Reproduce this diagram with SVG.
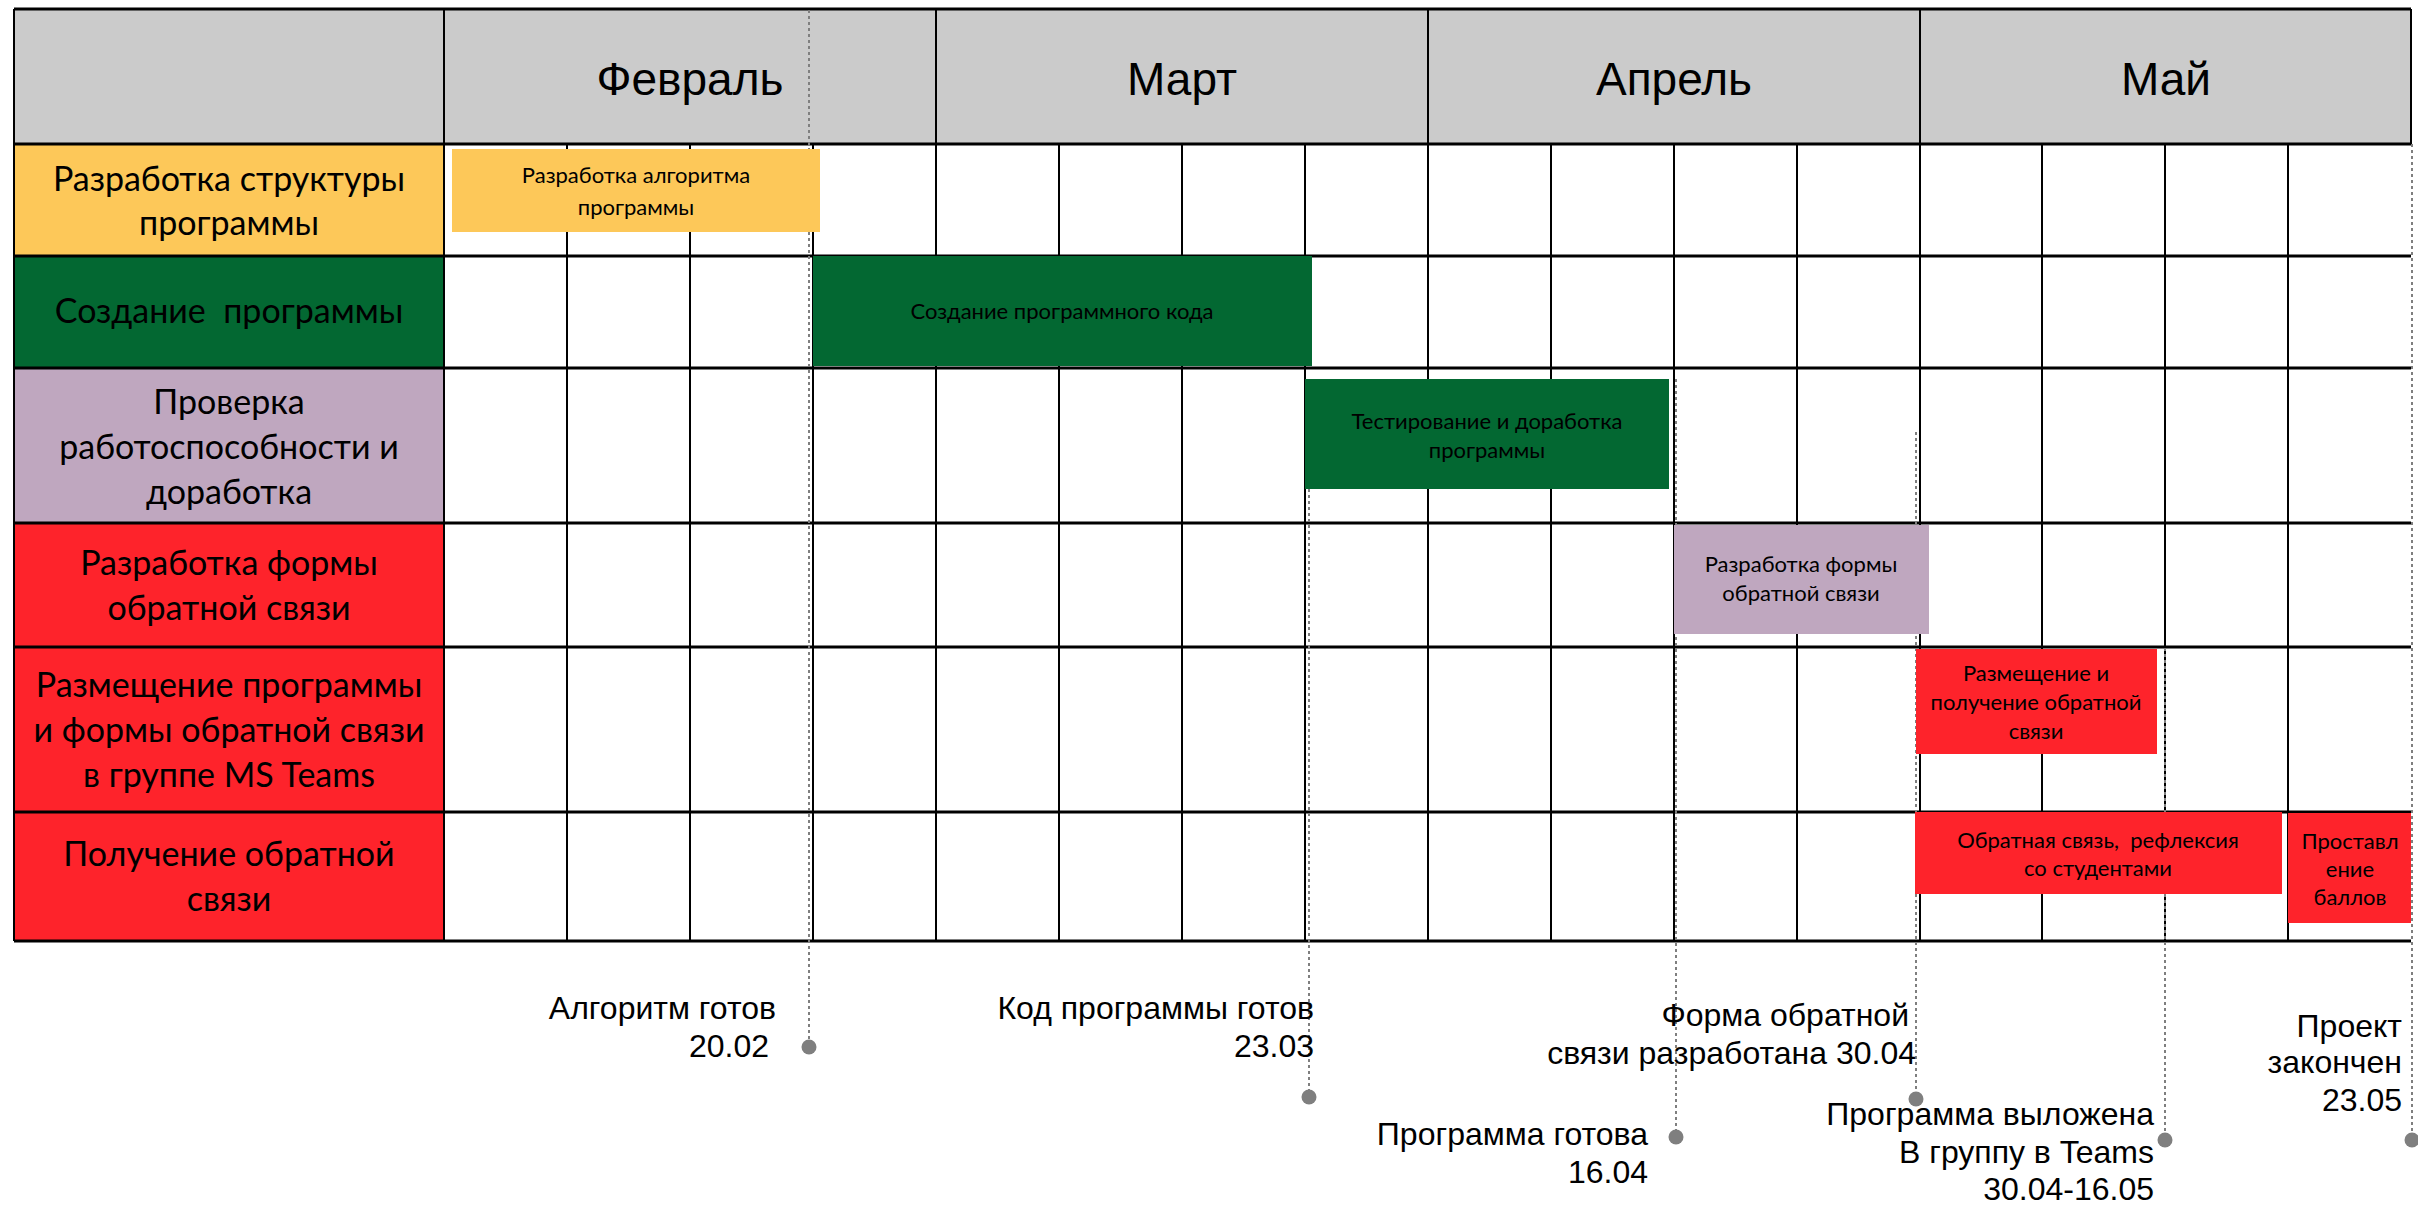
<svg xmlns="http://www.w3.org/2000/svg" width="2418" height="1206" viewBox="0 0 2418 1206">
<defs>
<style>
.lbl{font-family:Lato,"Noto Sans",sans-serif;font-size:34px;fill:#000;text-anchor:middle}
.bar{font-family:Lato,"Noto Sans",sans-serif;font-size:22px;fill:#000;text-anchor:middle}
.mon{font-family:"Liberation Sans",Arial,sans-serif;font-size:46px;fill:#000;text-anchor:middle}
.ms{font-family:"Liberation Sans",Arial,sans-serif;font-size:32px;fill:#000;text-anchor:end}
.hl{stroke:#000;stroke-width:3;fill:none}
.vl{stroke:#000;stroke-width:2;fill:none}
.dot{stroke:#7f7f7f;stroke-width:2;stroke-dasharray:3 3;fill:none;marker-end:url(#pin)}
</style>
<marker id="pin" markerWidth="18" markerHeight="18" refX="9" refY="9" markerUnits="userSpaceOnUse"><circle cx="9" cy="9" r="7.5" fill="#7f7f7f"/></marker>
</defs>
<rect x="0" y="0" width="2418" height="1206" fill="#fff"/>
<rect x="14" y="9" width="2397" height="135" fill="#cbcbcb"/>

<g id="row1-label"><rect x="14" y="144" width="430" height="112" fill="#fdc859"/><text class="lbl"><tspan x="229" y="191">Разработка структуры</tspan><tspan x="229" y="235">программы</tspan></text></g>
<g id="row2-label"><rect x="14" y="256" width="430" height="112" fill="#036832"/><text class="lbl" x="229" y="323" xml:space="preserve">Создание  программы</text></g>
<g id="row3-label"><rect x="14" y="368" width="430" height="155" fill="#bfa7bf"/><text class="lbl"><tspan x="229" y="414">Проверка</tspan><tspan x="229" y="459">работоспособности и</tspan><tspan x="229" y="504">доработка</tspan></text></g>
<g id="row4-label"><rect x="14" y="523" width="430" height="124" fill="#fe232b"/><text class="lbl"><tspan x="229" y="575">Разработка формы</tspan><tspan x="229" y="620">обратной связи</tspan></text></g>
<g id="row5-label"><rect x="14" y="647" width="430" height="165" fill="#fe232b"/><text class="lbl"><tspan x="229" y="697">Размещение программы</tspan><tspan x="229" y="742">и формы обратной связи</tspan><tspan x="229" y="787">в группе MS Teams</tspan></text></g>
<g id="row6-label"><rect x="14" y="812" width="430" height="129" fill="#fe232b"/><text class="lbl"><tspan x="229" y="866">Получение обратной</tspan><tspan x="229" y="911">связи</tspan></text></g>

<g id="month-feb"><text class="mon" x="690" y="95">Февраль</text></g>
<g id="month-mar"><text class="mon" x="1182" y="95">Март</text></g>
<g id="month-apr"><text class="mon" x="1674" y="95">Апрель</text></g>
<g id="month-may"><text class="mon" x="2166" y="95">Май</text></g>

<g id="grid">
<line class="hl" x1="14" y1="9" x2="2411" y2="9" stroke-width="5"/>
<line class="hl" x1="14" y1="144" x2="2411" y2="144"/>
<line class="hl" x1="14" y1="256" x2="2411" y2="256"/>
<line class="hl" x1="14" y1="368" x2="2411" y2="368"/>
<line class="hl" x1="14" y1="523" x2="2411" y2="523"/>
<line class="hl" x1="14" y1="647" x2="2411" y2="647"/>
<line class="hl" x1="14" y1="812" x2="2411" y2="812"/>
<line class="hl" x1="14" y1="941" x2="2411" y2="941"/>
<line class="vl" x1="14" y1="9" x2="14" y2="941" stroke-width="3"/>
<line class="vl" x1="444" y1="9" x2="444" y2="941"/>
<line class="vl" x1="936" y1="9" x2="936" y2="941"/>
<line class="vl" x1="1428" y1="9" x2="1428" y2="941"/>
<line class="vl" x1="1920" y1="9" x2="1920" y2="941"/>
<line class="vl" x1="2411" y1="9" x2="2411" y2="144"/>
<line class="vl" x1="567" y1="144" x2="567" y2="941"/>
<line class="vl" x1="690" y1="144" x2="690" y2="941"/>
<line class="vl" x1="813" y1="144" x2="813" y2="941"/>
<line class="vl" x1="1059" y1="144" x2="1059" y2="941"/>
<line class="vl" x1="1182" y1="144" x2="1182" y2="941"/>
<line class="vl" x1="1305" y1="144" x2="1305" y2="941"/>
<line class="vl" x1="1551" y1="144" x2="1551" y2="941"/>
<line class="vl" x1="1674" y1="144" x2="1674" y2="941"/>
<line class="vl" x1="1797" y1="144" x2="1797" y2="941"/>
<line class="vl" x1="2042" y1="144" x2="2042" y2="941"/>
<line class="vl" x1="2165" y1="144" x2="2165" y2="941"/>
<line class="vl" x1="2288" y1="144" x2="2288" y2="941"/>
</g>

<g id="connectors">
<line class="dot" x1="809" y1="10" x2="809" y2="1047"/>
<line class="dot" x1="1309" y1="489" x2="1309" y2="1097"/>
<line class="dot" x1="1676" y1="379" x2="1676" y2="1137"/>
<line class="dot" x1="1916" y1="432" x2="1916" y2="1099"/>
<line class="dot" x1="2165" y1="648" x2="2165" y2="1140"/>
<line class="dot" x1="2412" y1="144" x2="2412" y2="1140"/>
</g>

<g id="bar-algorithm"><rect x="452" y="149" width="368" height="83" fill="#fdc859"/><text class="bar"><tspan x="636" y="183">Разработка алгоритма</tspan><tspan x="636" y="215">программы</tspan></text></g>
<g id="bar-code"><rect x="813" y="256" width="499" height="110" fill="#036832"/><text class="bar" x="1062" y="319">Создание программного кода</text></g>
<g id="bar-testing"><rect x="1305" y="379" width="364" height="110" fill="#036832"/><text class="bar"><tspan x="1487" y="429">Тестирование и доработка</tspan><tspan x="1487" y="458">программы</tspan></text></g>
<g id="bar-form"><rect x="1674" y="525" width="255" height="109" fill="#bfa7bf"/><text class="bar"><tspan x="1801" y="572">Разработка формы</tspan><tspan x="1801" y="601">обратной связи</tspan></text></g>
<g id="bar-placement"><rect x="1916" y="649" width="241" height="105" fill="#fe232b"/><text class="bar"><tspan x="2036" y="681">Размещение и</tspan><tspan x="2036" y="710">получение обратной</tspan><tspan x="2036" y="739">связи</tspan></text></g>
<g id="bar-feedback"><rect x="1915" y="812" width="367" height="82" fill="#fe232b"/><text class="bar" xml:space="preserve"><tspan x="2098" y="848">Обратная связь,  рефлексия</tspan><tspan x="2098" y="876">со студентами</tspan></text></g>
<g id="bar-grading"><rect x="2288" y="813" width="123" height="110" fill="#fe232b"/><text class="bar"><tspan x="2350" y="849">Проставл</tspan><tspan x="2350" y="877">ение</tspan><tspan x="2350" y="905">баллов</tspan></text></g>

<g id="ms-algorithm"><text class="ms"><tspan x="776" y="1019">Алгоритм готов</tspan><tspan x="769" y="1057">20.02</tspan></text></g>
<g id="ms-code"><text class="ms"><tspan x="1314" y="1019">Код программы готов</tspan><tspan x="1314" y="1057">23.03</tspan></text></g>
<g id="ms-program"><text class="ms"><tspan x="1648" y="1145">Программа готова</tspan><tspan x="1648" y="1183">16.04</tspan></text></g>
<g id="ms-form"><text class="ms"><tspan x="1909" y="1026">Форма обратной</tspan><tspan x="1916" y="1064">связи разработана 30.04</tspan></text></g>
<g id="ms-published"><text class="ms"><tspan x="2154" y="1125">Программа выложена</tspan><tspan x="2154" y="1163">В группу в Teams</tspan><tspan x="2154" y="1200">30.04-16.05</tspan></text></g>
<g id="ms-finished"><text class="ms"><tspan x="2402" y="1037">Проект</tspan><tspan x="2402" y="1073">закончен</tspan><tspan x="2402" y="1111">23.05</tspan></text></g>
</svg>
